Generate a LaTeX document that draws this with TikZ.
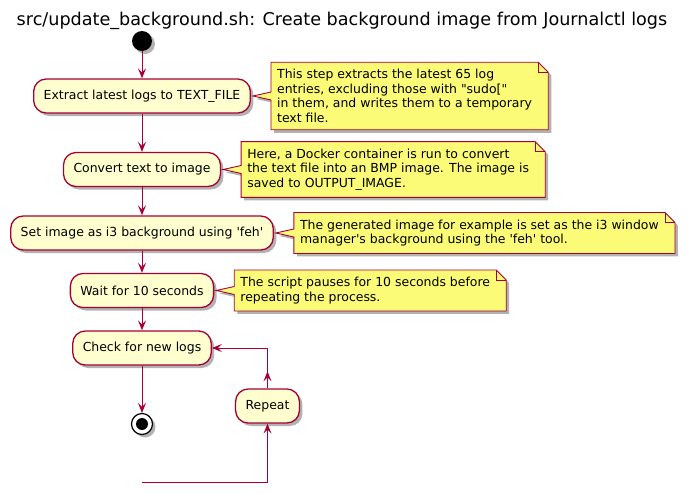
\documentclass[tikz,border=0pt]{standalone}
\usepackage{fontspec}
\setmainfont{DejaVu Sans}
\usetikzlibrary{positioning,calc,arrows.meta,shadows,backgrounds}
\definecolor{umlred}{HTML}{A80036}
\definecolor{actfill}{HTML}{FEFECE}
\definecolor{notefill}{HTML}{FBFB77}

\newcommand{\sq}{\textquotesingle}
\newcommand{\dq}{\textquotedbl}

\tikzset{
  shade/.style={drop shadow={shadow xshift=3pt, shadow yshift=-3pt, opacity=.3, fill=black}},
  act/.style={draw=umlred, fill=actfill, line width=1.3pt, rounded corners=12.5pt,
    inner xsep=10pt, inner ysep=0pt, minimum height=34pt, shade,
    font=\fontsize{12.45}{14.5}\selectfont},
  notetext/.style={inner xsep=6pt, inner ysep=7pt, align=left,
    font=\fontsize{12.45}{14.5}\selectfont},
  notebox/.style={draw=umlred, fill=notefill, line width=0.9pt, line join=miter, shade},
  flow/.style={umlred, line width=1pt, -{Stealth[length=10pt, width=8pt, inset=4pt]}}
}

\begin{document}
\begin{tikzpicture}[x=1pt, y=-1pt]
	\useasboundingbox (0,0) rectangle (689,493);
	\node (title) at (342,21) {\fontsize{17.6}{20}\selectfont src/update\_background.sh: Create background image from Journalctl logs};

	\node[fill, circle, inner sep=0pt, minimum size=20pt, shade] (start) at (142,41) {};
	\node[act] (b1) at (142,96) {Extract latest logs to TEXT\_FILE};
	\node[act] (b2) at (142,169.5) {Convert text to image};
	\node[act] (b3) at (142,233) {Set image as i3 background using \sq feh\sq};
	\node[act] (b4) at (142,290.5) {Wait for 10 seconds};
	\node[act] (b5) at (142,348) {Check for new logs};
	\node[draw, line width=1.2pt, fill=white, circle, inner sep=0pt, minimum size=21pt, shade] (stop) at (142,424) {};
	\node[fill, circle, inner sep=0pt, minimum size=12pt] (stopdot) at (stop) {};
	\node[act] (rep) at (267.5,406) {Repeat};
	\coordinate (loopstart) at (142,482);

	% notes
	\node[notetext, right=20pt of b1] (n1) {This step extracts the latest 65 log\\entries, excluding those with \dq sudo[\dq\\in them, and writes them to a temporary\\text file.};
	\node[notetext, right=20pt of b2] (n2) {Here, a Docker container is run to convert\\the text file into an BMP image. The image is\\saved to OUTPUT\_IMAGE.};
	\node[notetext, right=20pt of b3] (n3) {The generated image for example is set as the i3 window\\manager\sq s background using the \sq feh\sq\ tool.};
	\node[notetext, right=20pt of b4] (n4) {The script pauses for 10 seconds before\\repeating the process.};

	\begin{pgfonlayer}{background}
	\foreach \n/\b in {n1/b1, n2/b2, n3/b3, n4/b4} {
		\draw[notebox] (\n.north west) -- ($(\n.north east)+(0,0)$) -- ($(\n.north east)+(10,10)$)
			-- ($(\n.south east)+(10,0)$) -- (\n.south west) -- ($(\n.west)+(0,4)$)
			-- ($(\b.east)+(2,0)$) -- ($(\n.west)+(0,-4)$) -- cycle;
		\draw[umlred, line width=0.9pt] (\n.north east) -- ($(\n.north east)+(0,10)$) -- ($(\n.north east)+(10,10)$);
	}
	\end{pgfonlayer}

	\draw[flow] (start) -- (b1);
	\draw[flow] (b1) -- (b2);
	\draw[flow] (b2) -- (b3);
	\draw[flow] (b3) -- (b4);
	\draw[flow] (b4) -- (b5);
	\draw[flow] (b5) -- (stop);

	% loop back
	\draw[flow] (loopstart) -| (rep);
	\draw[flow] (rep.north) -- ++(0,-17);
	\draw[flow] (rep.north) |- (b5);
\end{tikzpicture}
\end{document}
